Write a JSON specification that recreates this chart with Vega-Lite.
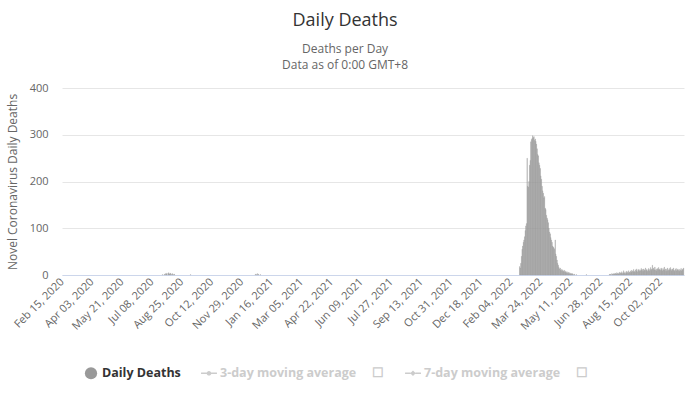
{
  "$schema": "https://vega.github.io/schema/vega-lite/v6.json",
  "width": 696,
  "height": 394,
  "autosize": {"type": "fit", "contains": "padding"},
  "padding": {"top": 12, "left": 6, "right": 12, "bottom": 62},
  "background": "white",
  "title": {
    "text": "Daily Deaths",
    "subtitle": ["Deaths per Day", "Data as of 0:00 GMT+8"],
    "anchor": "middle",
    "frame": "bounds",
    "font": "Open Sans",
    "fontSize": 18,
    "fontWeight": "normal",
    "color": "#333333",
    "subtitleFont": "Open Sans",
    "subtitleFontSize": 12,
    "subtitleColor": "#666666",
    "subtitlePadding": 14,
    "subtitleLineHeight": 16,
    "offset": 11
  },
  "config": {"view": {"stroke": null}, "font": "Open Sans"},
  "data": {
    "format": {"parse": {"date": "date:'%Y-%m-%d'"}},
    "values": [
      {"date": "2020-07-24", "deaths": 1}, {"date": "2020-07-27", "deaths": 2}, {"date": "2020-07-29", "deaths": 3},
      {"date": "2020-07-30", "deaths": 2}, {"date": "2020-07-31", "deaths": 4}, {"date": "2020-08-02", "deaths": 3},
      {"date": "2020-08-03", "deaths": 5}, {"date": "2020-08-04", "deaths": 2}, {"date": "2020-08-05", "deaths": 3},
      {"date": "2020-08-06", "deaths": 4}, {"date": "2020-08-08", "deaths": 2}, {"date": "2020-08-09", "deaths": 3},
      {"date": "2020-08-11", "deaths": 1}, {"date": "2020-08-12", "deaths": 2}, {"date": "2020-09-07", "deaths": 1},
      {"date": "2020-12-20", "deaths": 2}, {"date": "2020-12-22", "deaths": 1}, {"date": "2020-12-23", "deaths": 3},
      {"date": "2020-12-25", "deaths": 2}, {"date": "2020-12-28", "deaths": 1},
      {"date": "2022-02-17", "deaths": 18}, {"date": "2022-02-18", "deaths": 15}, {"date": "2022-02-19", "deaths": 25},
      {"date": "2022-02-20", "deaths": 40}, {"date": "2022-02-21", "deaths": 55}, {"date": "2022-02-22", "deaths": 62},
      {"date": "2022-02-23", "deaths": 70}, {"date": "2022-02-24", "deaths": 75}, {"date": "2022-02-25", "deaths": 82},
      {"date": "2022-02-26", "deaths": 95}, {"date": "2022-02-27", "deaths": 105}, {"date": "2022-02-28", "deaths": 110},
      {"date": "2022-03-01", "deaths": 250}, {"date": "2022-03-02", "deaths": 190}, {"date": "2022-03-03", "deaths": 188},
      {"date": "2022-03-04", "deaths": 200}, {"date": "2022-03-05", "deaths": 235}, {"date": "2022-03-06", "deaths": 245},
      {"date": "2022-03-07", "deaths": 285}, {"date": "2022-03-08", "deaths": 290}, {"date": "2022-03-09", "deaths": 292},
      {"date": "2022-03-10", "deaths": 298}, {"date": "2022-03-11", "deaths": 294}, {"date": "2022-03-12", "deaths": 296},
      {"date": "2022-03-13", "deaths": 288}, {"date": "2022-03-14", "deaths": 291}, {"date": "2022-03-15", "deaths": 286},
      {"date": "2022-03-16", "deaths": 280}, {"date": "2022-03-17", "deaths": 270}, {"date": "2022-03-18", "deaths": 258},
      {"date": "2022-03-19", "deaths": 255}, {"date": "2022-03-20", "deaths": 240}, {"date": "2022-03-21", "deaths": 235},
      {"date": "2022-03-22", "deaths": 228}, {"date": "2022-03-23", "deaths": 212}, {"date": "2022-03-24", "deaths": 205},
      {"date": "2022-03-25", "deaths": 190}, {"date": "2022-03-26", "deaths": 180}, {"date": "2022-03-27", "deaths": 175},
      {"date": "2022-03-28", "deaths": 165}, {"date": "2022-03-29", "deaths": 168}, {"date": "2022-03-30", "deaths": 143},
      {"date": "2022-03-31", "deaths": 140}, {"date": "2022-04-01", "deaths": 128}, {"date": "2022-04-02", "deaths": 122},
      {"date": "2022-04-03", "deaths": 118}, {"date": "2022-04-04", "deaths": 112}, {"date": "2022-04-05", "deaths": 100},
      {"date": "2022-04-06", "deaths": 92}, {"date": "2022-04-07", "deaths": 88}, {"date": "2022-04-08", "deaths": 80},
      {"date": "2022-04-09", "deaths": 75}, {"date": "2022-04-10", "deaths": 70}, {"date": "2022-04-11", "deaths": 62},
      {"date": "2022-04-12", "deaths": 60}, {"date": "2022-04-13", "deaths": 58}, {"date": "2022-04-14", "deaths": 55},
      {"date": "2022-04-15", "deaths": 75}, {"date": "2022-04-16", "deaths": 45}, {"date": "2022-04-17", "deaths": 40},
      {"date": "2022-04-18", "deaths": 32}, {"date": "2022-04-19", "deaths": 25}, {"date": "2022-04-20", "deaths": 21},
      {"date": "2022-04-21", "deaths": 16}, {"date": "2022-04-22", "deaths": 13}, {"date": "2022-04-23", "deaths": 15},
      {"date": "2022-04-24", "deaths": 10}, {"date": "2022-04-25", "deaths": 12}, {"date": "2022-04-26", "deaths": 8},
      {"date": "2022-04-27", "deaths": 11}, {"date": "2022-04-28", "deaths": 9}, {"date": "2022-04-29", "deaths": 7},
      {"date": "2022-04-30", "deaths": 10}, {"date": "2022-05-01", "deaths": 6}, {"date": "2022-05-02", "deaths": 8},
      {"date": "2022-05-03", "deaths": 5}, {"date": "2022-05-04", "deaths": 7}, {"date": "2022-05-05", "deaths": 4},
      {"date": "2022-05-06", "deaths": 6}, {"date": "2022-05-07", "deaths": 3}, {"date": "2022-05-08", "deaths": 5},
      {"date": "2022-05-09", "deaths": 2}, {"date": "2022-05-10", "deaths": 4}, {"date": "2022-05-11", "deaths": 3},
      {"date": "2022-05-12", "deaths": 2}, {"date": "2022-05-13", "deaths": 3}, {"date": "2022-05-14", "deaths": 1},
      {"date": "2022-05-16", "deaths": 2}, {"date": "2022-05-19", "deaths": 1}, {"date": "2022-06-04", "deaths": 1},
      {"date": "2022-07-11", "deaths": 1}, {"date": "2022-07-12", "deaths": 2}, {"date": "2022-07-13", "deaths": 1},
      {"date": "2022-07-15", "deaths": 3}, {"date": "2022-07-16", "deaths": 2}, {"date": "2022-07-17", "deaths": 1},
      {"date": "2022-07-18", "deaths": 3}, {"date": "2022-07-19", "deaths": 2}, {"date": "2022-07-20", "deaths": 4},
      {"date": "2022-07-21", "deaths": 3}, {"date": "2022-07-22", "deaths": 2}, {"date": "2022-07-23", "deaths": 5},
      {"date": "2022-07-24", "deaths": 3}, {"date": "2022-07-25", "deaths": 4}, {"date": "2022-07-26", "deaths": 2},
      {"date": "2022-07-27", "deaths": 6}, {"date": "2022-07-28", "deaths": 3}, {"date": "2022-07-29", "deaths": 5},
      {"date": "2022-07-30", "deaths": 4}, {"date": "2022-07-31", "deaths": 7}, {"date": "2022-08-01", "deaths": 3},
      {"date": "2022-08-02", "deaths": 5}, {"date": "2022-08-03", "deaths": 9}, {"date": "2022-08-04", "deaths": 4},
      {"date": "2022-08-05", "deaths": 6}, {"date": "2022-08-06", "deaths": 3}, {"date": "2022-08-07", "deaths": 8},
      {"date": "2022-08-08", "deaths": 5}, {"date": "2022-08-09", "deaths": 7}, {"date": "2022-08-10", "deaths": 4},
      {"date": "2022-08-11", "deaths": 9}, {"date": "2022-08-12", "deaths": 6}, {"date": "2022-08-13", "deaths": 5},
      {"date": "2022-08-14", "deaths": 8}, {"date": "2022-08-15", "deaths": 10}, {"date": "2022-08-16", "deaths": 6},
      {"date": "2022-08-17", "deaths": 9}, {"date": "2022-08-18", "deaths": 7}, {"date": "2022-08-19", "deaths": 12},
      {"date": "2022-08-20", "deaths": 8}, {"date": "2022-08-21", "deaths": 6}, {"date": "2022-08-22", "deaths": 11},
      {"date": "2022-08-23", "deaths": 9}, {"date": "2022-08-24", "deaths": 13}, {"date": "2022-08-25", "deaths": 7},
      {"date": "2022-08-26", "deaths": 10}, {"date": "2022-08-27", "deaths": 12}, {"date": "2022-08-28", "deaths": 8},
      {"date": "2022-08-29", "deaths": 11}, {"date": "2022-08-30", "deaths": 9}, {"date": "2022-08-31", "deaths": 14},
      {"date": "2022-09-01", "deaths": 10}, {"date": "2022-09-02", "deaths": 12}, {"date": "2022-09-03", "deaths": 8},
      {"date": "2022-09-04", "deaths": 13}, {"date": "2022-09-05", "deaths": 11}, {"date": "2022-09-06", "deaths": 9},
      {"date": "2022-09-07", "deaths": 15}, {"date": "2022-09-08", "deaths": 10}, {"date": "2022-09-09", "deaths": 12},
      {"date": "2022-09-10", "deaths": 8}, {"date": "2022-09-11", "deaths": 11}, {"date": "2022-09-12", "deaths": 14},
      {"date": "2022-09-13", "deaths": 9}, {"date": "2022-09-14", "deaths": 12}, {"date": "2022-09-15", "deaths": 16},
      {"date": "2022-09-16", "deaths": 10}, {"date": "2022-09-17", "deaths": 13}, {"date": "2022-09-18", "deaths": 21},
      {"date": "2022-09-19", "deaths": 12}, {"date": "2022-09-20", "deaths": 15}, {"date": "2022-09-21", "deaths": 11},
      {"date": "2022-09-22", "deaths": 17}, {"date": "2022-09-23", "deaths": 10}, {"date": "2022-09-24", "deaths": 13},
      {"date": "2022-09-25", "deaths": 9}, {"date": "2022-09-26", "deaths": 14}, {"date": "2022-09-27", "deaths": 12},
      {"date": "2022-09-28", "deaths": 16}, {"date": "2022-09-29", "deaths": 11}, {"date": "2022-09-30", "deaths": 13},
      {"date": "2022-10-01", "deaths": 10}, {"date": "2022-10-02", "deaths": 15}, {"date": "2022-10-03", "deaths": 12},
      {"date": "2022-10-04", "deaths": 9}, {"date": "2022-10-05", "deaths": 14}, {"date": "2022-10-06", "deaths": 11},
      {"date": "2022-10-07", "deaths": 17}, {"date": "2022-10-08", "deaths": 10}, {"date": "2022-10-09", "deaths": 13},
      {"date": "2022-10-10", "deaths": 8}, {"date": "2022-10-11", "deaths": 12}, {"date": "2022-10-12", "deaths": 15},
      {"date": "2022-10-13", "deaths": 9}, {"date": "2022-10-14", "deaths": 11}, {"date": "2022-10-15", "deaths": 14},
      {"date": "2022-10-16", "deaths": 10}, {"date": "2022-10-17", "deaths": 16}, {"date": "2022-10-18", "deaths": 12},
      {"date": "2022-10-19", "deaths": 9}, {"date": "2022-10-20", "deaths": 13}, {"date": "2022-10-21", "deaths": 11},
      {"date": "2022-10-22", "deaths": 15}, {"date": "2022-10-23", "deaths": 10}, {"date": "2022-10-24", "deaths": 8},
      {"date": "2022-10-25", "deaths": 12}, {"date": "2022-10-26", "deaths": 14}, {"date": "2022-10-27", "deaths": 9},
      {"date": "2022-10-28", "deaths": 11}, {"date": "2022-10-29", "deaths": 13}, {"date": "2022-10-30", "deaths": 10},
      {"date": "2022-10-31", "deaths": 8}, {"date": "2022-11-01", "deaths": 12}, {"date": "2022-11-02", "deaths": 10},
      {"date": "2022-11-03", "deaths": 14}, {"date": "2022-11-04", "deaths": 9}, {"date": "2022-11-05", "deaths": 11},
      {"date": "2022-11-06", "deaths": 13}, {"date": "2022-11-07", "deaths": 15}
    ]
  },
  "layer": [
    {
      "mark": {"type": "bar", "color": "#999999", "stroke": "#999999", "strokeWidth": 0.3},
      "encoding": {
        "x": {
          "field": "date",
          "timeUnit": "yearmonthdate",
          "type": "temporal",
          "scale": {"domain": [{"year": 2020, "month": 2, "date": 15}, {"year": 2022, "month": 11, "date": 9}]},
          "axis": {
            "title": null,
            "values": [
              {"year": 2020, "month": 2, "date": 15}, {"year": 2020, "month": 4, "date": 3}, {"year": 2020, "month": 5, "date": 21},
              {"year": 2020, "month": 7, "date": 8}, {"year": 2020, "month": 8, "date": 25}, {"year": 2020, "month": 10, "date": 12},
              {"year": 2020, "month": 11, "date": 29}, {"year": 2021, "month": 1, "date": 16}, {"year": 2021, "month": 3, "date": 5},
              {"year": 2021, "month": 4, "date": 22}, {"year": 2021, "month": 6, "date": 9}, {"year": 2021, "month": 7, "date": 27},
              {"year": 2021, "month": 9, "date": 13}, {"year": 2021, "month": 10, "date": 31}, {"year": 2021, "month": 12, "date": 18},
              {"year": 2022, "month": 2, "date": 4}, {"year": 2022, "month": 3, "date": 24}, {"year": 2022, "month": 5, "date": 11},
              {"year": 2022, "month": 6, "date": 28}, {"year": 2022, "month": 8, "date": 15}, {"year": 2022, "month": 10, "date": 2}
            ],
            "format": "%b %d, %Y",
            "labelAngle": -45,
            "labelAlign": "right",
            "labelBaseline": "middle",
            "labelOverlap": false,
            "labelFlush": false,
            "labelFont": "Open Sans",
            "labelFontSize": 11,
            "labelColor": "#666666",
            "labelPadding": 5,
            "ticks": false,
            "grid": false,
            "domain": true,
            "domainColor": "#ccd6eb",
            "domainWidth": 1
          }
        },
        "y": {
          "field": "deaths",
          "type": "quantitative",
          "scale": {"domain": [0, 400], "nice": false},
          "axis": {
            "title": "Novel Coronavirus Daily Deaths",
            "titleFont": "Open Sans",
            "titleFontSize": 12,
            "titleFontWeight": "normal",
            "titleColor": "#666666",
            "titlePadding": 10,
            "values": [0, 100, 200, 300, 400],
            "labelFont": "Open Sans",
            "labelFontSize": 11,
            "labelColor": "#666666",
            "labelPadding": 14,
            "domain": false,
            "ticks": false,
            "gridColor": "#e6e6e6"
          }
        }
      }
    },
    {
      "transform": [{"filter": "datum.deaths < 0"}],
      "mark": {"type": "point", "filled": true, "opacity": 1},
      "encoding": {
        "color": {
          "datum": "Daily Deaths",
          "type": "nominal",
          "scale": {
            "domain": ["Daily Deaths", "3-day moving average", "7-day moving average"],
            "range": ["#999999", "#cccccc", "#cccccc"]
          },
          "legend": {
            "title": null,
            "orient": "none",
            "direction": "horizontal",
            "legendX": 22,
            "legendY": 278,
            "columnPadding": 20,
            "labelFont": "Open Sans",
            "labelFontSize": 12.5,
            "labelFontWeight": "bold",
            "labelLimit": 300,
            "symbolSize": 150,
            "symbolOpacity": 1,
            "labelExpr": "datum.label == 'Daily Deaths' ? datum.label : datum.label + '\u00a0\u00a0\u00a0\u00a0\u00a0☐'",
            "encode": {
              "labels": {"update": {"fill": {"signal": "datum.value == 'Daily Deaths' ? '#333333' : '#cccccc'"}}}
            }
          }
        },
        "shape": {
          "datum": "Daily Deaths",
          "type": "nominal",
          "scale": {
            "domain": ["Daily Deaths", "3-day moving average", "7-day moving average"],
            "range": [
              "circle",
              "M-1.3,-0.12H-0.35V0.12H-1.3Z M0.35,-0.12H1.3V0.12H0.35Z M-0.38,0A0.38,0.38 0 1,1 0.38,0A0.38,0.38 0 1,1 -0.38,0Z",
              "M-1.3,-0.12H-0.4V0.12H-1.3Z M0.4,-0.12H1.3V0.12H0.4Z M0,-0.45L0.45,0L0,0.45L-0.45,0Z"
            ]
          },
          "legend": {
            "title": null,
            "orient": "none",
            "direction": "horizontal",
            "legendX": 22,
            "legendY": 278,
            "columnPadding": 20,
            "labelFont": "Open Sans",
            "labelFontSize": 12.5,
            "labelFontWeight": "bold",
            "labelLimit": 300,
            "symbolSize": 150,
            "symbolOpacity": 1,
            "labelExpr": "datum.label == 'Daily Deaths' ? datum.label : datum.label + '\u00a0\u00a0\u00a0\u00a0\u00a0☐'",
            "encode": {
              "labels": {"update": {"fill": {"signal": "datum.value == 'Daily Deaths' ? '#333333' : '#cccccc'"}}}
            }
          }
        }
      }
    }
  ]
}
